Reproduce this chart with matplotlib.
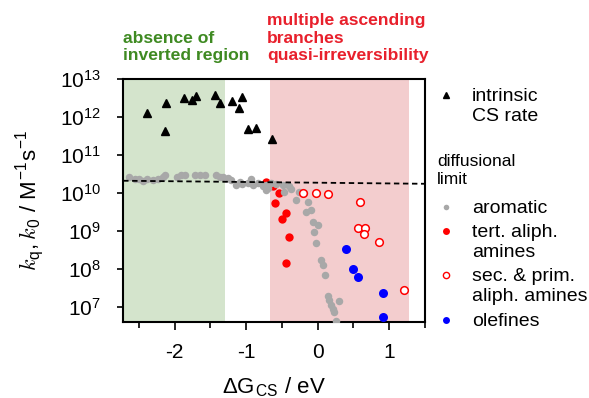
import matplotlib.pyplot as plt
from matplotlib.lines import Line2D
import numpy as np

plt.rcParams['font.family'] = ['Liberation Sans', 'DejaVu Sans']
plt.rcParams['mathtext.fontset'] = 'custom'
plt.rcParams['mathtext.rm'] = 'Liberation Sans'
plt.rcParams['mathtext.sf'] = 'Liberation Sans'
plt.rcParams['mathtext.it'] = 'cmmi10'
plt.rcParams['axes.unicode_minus'] = False

# intrinsic CS rate (triangles), log10 k
tri_dG = [-2.38, -2.12, -2.14, -1.87, -1.75, -1.70, -1.44, -1.36, -1.20, -1.06, -1.10, -0.97, -0.86, -0.64]
tri_logk = [12.10, 12.38, 11.63, 12.49, 12.45, 12.55, 12.58, 12.36, 12.43, 12.53, 12.24, 11.69, 11.70, 11.43]

# aromatic donors (grey)
aro_dG = [-2.64, -2.56, -2.50, -2.44, -2.38, -2.30, -2.23, -2.16, -2.13, -1.97, -1.91, -1.86,
          -1.72, -1.65, -1.58, -1.42, -1.37, -1.32, -1.26, -1.21, -1.14, -1.09, -1.06, -0.98,
          -0.93, -0.90, -0.84, -0.77, -0.72, -0.70, -0.72, -0.65, -0.58, -0.49, -0.47, -0.40,
          -0.37, -0.30, -0.26, -0.19, -0.14, -0.16, -0.09, -0.07, 0.00, -0.05, -0.02, 0.05,
          0.07, 0.10, 0.14, 0.16, 0.19, 0.21, 0.23, 0.30, 0.25]
aro_logk = [10.41, 10.37, 10.37, 10.32, 10.37, 10.34, 10.37, 10.43, 10.47, 10.43, 10.47, 10.47,
            10.46, 10.46, 10.46, 10.47, 10.41, 10.43, 10.39, 10.34, 10.21, 10.30, 10.24, 10.25,
            10.36, 10.21, 10.25, 10.18, 10.21, 10.12, 10.08, 10.27, 10.24, 10.21, 10.03, 10.17,
            10.11, 9.82, 10.03, 9.99, 9.77, 9.51, 9.55, 9.24, 9.16, 8.97, 8.68, 8.24,
            8.09, 7.84, 7.28, 7.18, 7.05, 6.95, 6.86, 7.14, 6.63]

# tertiary aliphatic amines (red filled)
tert_dG = [-0.72, -0.63, -0.54, -0.59, -0.44, -0.50, -0.40, -0.44]
tert_logk = [10.29, 10.18, 9.99, 9.73, 9.48, 9.32, 8.84, 8.15]

# secondary & primary aliphatic amines (red open)
sec_dG = [-0.21, -0.03, 0.15, 0.59, 0.57, 0.66, 0.65, 0.86, 1.21]
sec_logk = [9.99, 9.99, 9.96, 9.77, 9.08, 9.08, 8.92, 8.70, 7.45]

# olefines (blue)
ole_dG = [0.40, 0.50, 0.56, 0.91, 0.91]
ole_logk = [8.53, 8.00, 7.78, 7.37, 6.74]

# diffusional limit
diff_dG = [-2.72, 1.50]
diff_logk = [10.32, 10.24]

fig = plt.figure(figsize=(5.89, 3.98), dpi=100)
ax = fig.add_axes([0.209, 0.191, 0.5126, 0.6105])

ax.axvspan(-2.72, -1.30, color='#d4e4cc', lw=0, zorder=0)
ax.axvspan(-0.66, 1.28, color='#f3cdce', lw=0, zorder=0)

ax.plot(tri_dG, 10 ** np.array(tri_logk), '^', color='black', ms=5.3, zorder=3)
ax.plot(aro_dG, 10 ** np.array(aro_logk), 'o', color='#a8a8a8', ms=5.4, mew=0, zorder=3)
ax.plot(tert_dG, 10 ** np.array(tert_logk), 'o', color='#ff0000', ms=6, mew=0, zorder=2)
ax.plot(sec_dG, 10 ** np.array(sec_logk), 'o', mfc='white', mec='#ff0000', ms=5.5, mew=1.1, zorder=3)
ax.plot(ole_dG, 10 ** np.array(ole_logk), 'o', color='#0000ff', ms=6.5, mew=0, zorder=3)
ax.plot(diff_dG, 10 ** np.array(diff_logk), color='black', lw=1.3, dashes=(3, 2), zorder=5)

ax.set_yscale('log')
ax.set_ylim(10 ** 6.6, 1e13)
ax.set_xlim(-2.72, 1.5)
ax.set_yticks([1e7, 1e8, 1e9, 1e10, 1e11, 1e12, 1e13])
ax.set_xticks([-2, -1, 0, 1])
ax.set_xticks([-2.5, -1.5, -0.5, 0.5, 1.5], minor=True)
ax.tick_params(which='both', labelsize=15, width=1.2)
ax.tick_params(axis='x', which='major', direction='out', length=6, pad=9)
ax.tick_params(axis='x', which='minor', direction='out', length=4)
ax.tick_params(axis='y', which='major', direction='out', length=4, pad=12)
ax.tick_params(axis='y', which='minor', direction='in', length=3, width=1)
for s in ax.spines.values():
    s.set_linewidth(1.5)

ax.set_xlabel('ΔG$_{\\mathrm{CS}}$ / eV', fontsize=16, labelpad=10)
ax.set_ylabel('$\\mathit{k}_{\\mathrm{q}},\\mathit{k}_{\\mathrm{0}}$ / M$^{-1}$s$^{-1}$', fontsize=16, labelpad=9)

fig.text(123 / 589, 1 - 63 / 398, 'absence of\ninverted region', color='#3f8a22',
         fontsize=12.6, fontweight='bold', linespacing=1.2, va='bottom')
fig.text(267 / 589, 1 - 63 / 398, 'multiple ascending\nbranches\nquasi-irreversibility', color='#e8202c',
         fontsize=12.6, fontweight='bold', linespacing=1.2, va='bottom')

# legend drawn by hand at the right
def fx(px):
    return px / 589

def fy(py):
    return 1 - py / 398

leg_items = [
    ('^', dict(color='black', ms=4), 'intrinsic\nCS rate', 95),
    ('o', dict(color='#a8a8a8', ms=4, mew=0), 'aromatic', 207),
    ('o', dict(color='#ff0000', ms=5, mew=0), 'tert. aliph.\namines', 231),
    ('o', dict(mfc='white', mec='#ff0000', ms=4.5, mew=1.0), 'sec. & prim.\naliph. amines', 275),
    ('o', dict(color='#0000ff', ms=5, mew=0), 'olefines', 320),
]
for mk, kw, lab, py in leg_items:
    fig.add_artist(Line2D([fx(446)], [fy(py)], marker=mk, ls='none', **kw))
    fig.text(fx(472), fy(py - 7), lab, fontsize=14, va='top', linespacing=1.25)
fig.text(fx(437), fy(153.5), 'diffusional\nlimit', fontsize=12.5, va='top', linespacing=1.25)

fig.savefig('out.png', dpi=100)
